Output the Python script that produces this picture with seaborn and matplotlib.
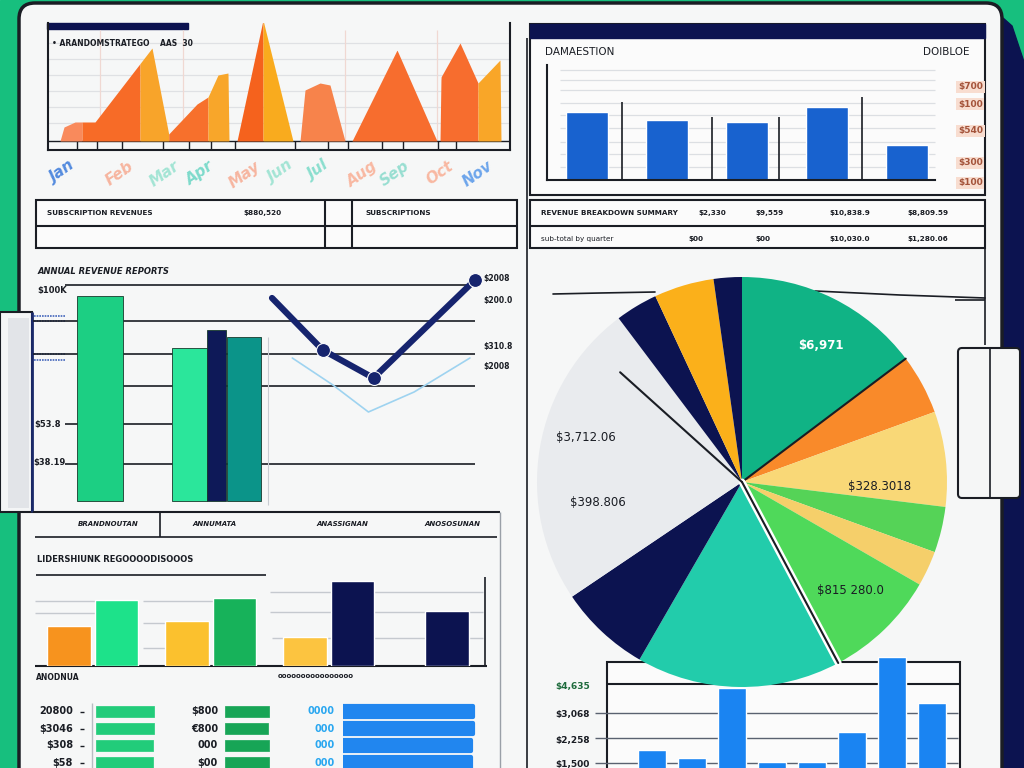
import numpy as np
import pandas as pd
import matplotlib
matplotlib.use("Agg")
import matplotlib.pyplot as plt
from matplotlib.patches import Rectangle, FancyBboxPatch, Polygon
import seaborn as sns

sns.set_theme(style="white")
plt.rcParams["font.family"] = ["DejaVu Sans"]

# ---------------- data ----------------
# top-left area chart: knots (day index) and heights
wave_x = [12, 16, 27, 47, 104, 120.7, 149, 160, 170, 180, 181, 189, 215, 245,
          252, 257, 272, 282, 297, 304, 349, 389, 392, 393, 412, 430, 452, 453]
wave_y = [0, 14, 19, 19, 93, 7, 37, 44, 66, 68, 0, 0, 121, 0,
          0, 51, 58, 56, 0, 0, 91, 0, 0, 64, 98, 58, 81, 0]
wave_bands = [(12, 34), (34, 92), (92, 120.7), (120.7, 160), (160, 181), (189, 215),
              (215, 245), (252, 297), (304, 389), (392, 430), (430, 453)]
wave_months = ["Jan", "Feb", "Mar", "Apr", "May", "Jun", "Jul", "Aug", "Sep", "Oct", "Nov"]

# top-right distribution bars
dist_cats = ["North", "South", "East", "West", "Central"]
dist_vals = [680, 600, 580, 730, 350]
dist_side = ["$700", "$100", "$540", "$300", "$100"]

# tables
right_row1 = ["REVENUE BREAKDOWN SUMMARY", "$2,330", "$9,559", "$10,838.9", "$8,809.59"]
right_row2 = ["sub-total by quarter", "$00", "$00", "$10,030.0", "$1,280.06"]
left_row1 = ["SUBSCRIPTION REVENUES", "$880,520", "SUBSCRIPTIONS"]

# annual revenue bars + trend
rev_cats = ["2019", "2020 A", "2020 B", "2020 C"]
rev_vals = [102.5, 76.5, 85.5, 82]
trend_t = [0, 1, 2, 4]
trend_v = [66, 40, 26, 75]
target_t = [0.4, 1.2, 1.9, 2.8, 3.9]
target_v = [36, 22.5, 9, 19, 36]

# pie shares (clockwise from 12 o'clock)
share_vals = [53, 17, 27, 13, 10, 32, 58, 26, 87, 12, 17, 8]
share_labels = ["$6,971", "$3,712.06", "$398.806", "$328.3018", "$815 280.0"]

# segment bars
seg_groups = ["A", "B", "C", "D"]
seg_plan = [40, 45, 29]
seg_actual = [66, 68, 85, 55]
seg_labels = ["BRANDNOUTAN", "ANNUMATA", "ANASSIGNAN", "ANOSOSUNAN"]

# kpi horizontal bars
kpi_a = [58, 58, 57, 57]
kpi_b = [44, 43, 44, 44]
kpi_c = [130, 130, 128, 128]
kpi_a_lbl = ["20800", "$3046", "$308", "$58"]
kpi_b_lbl = ["$800", "€800", "000", "$00"]
kpi_c_lbl = ["0000", "000", "000", "000"]

# monthly bars (bottom right)
month_cats = ["Jan", "Feb", "Mar", "Apr", "May", "Jun", "Jul", "Aug"]
month_vals = [1000, 680, 3480, 520, 520, 1720, 4720, 2880]
month_ticks = ["$4,635", "$3,068", "$2,258", "$1,500"]

# ---------------- colours ----------------
GREEN_BG = "#17bf7e"
NAVY = "#0c1350"
PANEL = "#f6f7f7"
INK = "#1a1d24"

W, H = 1024, 768


def box(x0, y0, x1, y1):
    return [x0 / W, 1 - y1 / H, (x1 - x0) / W, (y1 - y0) / H]


def clean(ax):
    ax.set_facecolor("none")
    for s in ax.spines.values():
        s.set_visible(False)
    ax.set_xticks([])
    ax.set_yticks([])
    ax.set_xlabel("")
    ax.set_ylabel("")


fig = plt.figure(figsize=(10.24, 7.68), dpi=100)
bg = fig.add_axes([0, 0, 1, 1])
bg.set_xlim(0, W)
bg.set_ylim(H, 0)
bg.axis("off")


def hl(y, x0, x1, c=INK, lw=1.2, **kw):
    bg.plot([x0, x1], [y, y], color=c, lw=lw, solid_capstyle="butt", **kw)


def vl(x, y0, y1, c=INK, lw=1.2, **kw):
    bg.plot([x, x], [y0, y1], color=c, lw=lw, solid_capstyle="butt", **kw)


def txt(x, y, s, size=6, **kw):
    kw.setdefault("fontweight", "bold")
    kw.setdefault("color", INK)
    bg.text(x, y, s, fontsize=size, va="center", **kw)


# background, panel, side tabs
bg.add_patch(Rectangle((0, 0), W, H, color=GREEN_BG))
bg.add_patch(Polygon([(1003, 768), (1003, 18), (1012, 26), (1024, 62), (1024, 768)], color=NAVY))
bg.add_patch(FancyBboxPatch((19, 3), 983, 800, boxstyle="round,pad=0,rounding_size=16",
                            fc=PANEL, ec=INK, lw=2.5))
bg.add_patch(Rectangle((0, 312), 32, 200, fc="#f4f5f6", ec=INK, lw=1.5))
bg.add_patch(Rectangle((8, 318), 21, 190, fc="#e2e4e8", ec="none"))
vl(32, 312, 512, c="#1b2a6b", lw=2)
for yy in (316, 321, 354, 360):
    hl(yy, 34, 65, c="#4466bb", lw=1.2, ls=(0, (1, 0.6)))
bg.add_patch(FancyBboxPatch((958, 348), 62, 150, boxstyle="round,pad=0,rounding_size=4",
                            fc="#f5f6f6", ec=INK, lw=1.5))
vl(990, 349, 497, lw=1.2)

# ---- top-left frame ----
bg.add_patch(Rectangle((47, 23), 141, 6, color=NAVY))
txt(52, 44, "• ARANDOMSTRATEGO    AAS  30", size=5.5)
for gy in (43, 59, 75, 91, 107, 123):
    hl(gy, 48, 510, c="#dfe1e4", lw=0.9)
for gx in (100, 183, 345, 437):
    vl(gx, 30, 141, c="#f0d8d2", lw=0.9)
hl(141, 48, 510, lw=1)
for tx in (77, 97, 122, 163, 189, 211, 235, 295, 328, 348, 382, 403, 438, 456):
    vl(tx, 141, 150, lw=1)

# ---- top-right frame ----
bg.add_patch(Rectangle((530, 24), 455, 171, fc="#fbfbfb", ec=INK, lw=1.5))
bg.add_patch(Rectangle((530, 24), 455, 14, color=NAVY))
txt(545, 52, "DAMAESTION", size=7.5, fontweight="normal")
txt(970, 52, "DOIBLOE", size=7.5, ha="right", fontweight="normal")
for gy in (70, 80, 90, 103, 115, 128, 142, 154, 167):
    hl(gy, 560, 935, c="#dcdfe3", lw=0.9)
for (gx, gy) in ((622, 102), (712, 117), (779, 117), (862, 97)):
    vl(gx, gy, 180, lw=1.2)
for lab, yy in zip(dist_side, (87, 104, 131, 163, 183)):
    txt(958, yy, lab, size=6.5, color="#a4533a",
        bbox=dict(fc="#f8ddd0", ec="none", pad=1.2))

# right table
bg.add_patch(Rectangle((530, 200), 455, 48, fc="#fbfbfb", ec=INK, lw=1.5))
hl(226, 530, 985, lw=1.5)
for lab, xx in zip(right_row1, (541, 698, 755, 829, 907)):
    txt(xx, 213, lab, size=5.2)
for lab, xx in zip(right_row2, (541, 688, 755, 829, 907)):
    txt(xx, 239, lab, size=5.2, fontweight="normal" if xx == 541 else "bold")

# right panel borders
vl(527, 38, 768, lw=1.2)
vl(985, 248, 345, lw=1.2)
hl(300, 955, 985, lw=1.2)
bg.plot([553, 600, 655], [294, 293, 292], color=INK, lw=1.2)
bg.plot([815, 900, 985], [291, 295, 298], color=INK, lw=1.2)

# left table
bg.add_patch(Rectangle((36, 200), 481, 48, fc="#fbfbfb", ec=INK, lw=1.5))
hl(226, 36, 517, lw=1.5)
vl(325, 200, 248, lw=1.5)
vl(352, 200, 248, lw=1.5)
for lab, xx in zip(left_row1, (47, 243, 365)):
    txt(xx, 213, lab, size=5.2)

# ---- middle-left frame ----
txt(38, 271, "ANNUAL REVENUE REPORTS", size=6, fontstyle="italic")
hl(285, 65, 473)
for gy in (321, 354):
    hl(gy, 33, 475)
hl(386, 123, 475)
hl(424, 65, 172)
hl(464, 65, 475)
vl(268, 337, 505, c="#c8ccd2", lw=0.8)
hl(512, 33, 500, lw=1.5)
txt(37, 291, "$100K", size=6)
txt(34, 424, "$53.8", size=6)
txt(33, 463, "$38.19", size=6)
for lab, yy in zip(["$2008", "$200.0", "$310.8", "$2008"], (279, 300, 347, 367)):
    txt(483, yy, lab, size=5.5)

# label row
hl(537, 35, 497, lw=1.2)
vl(160, 512, 537, lw=1.2)
for lab, xx in zip(seg_labels, (78, 192, 316, 424)):
    txt(xx, 524, lab, size=5, fontstyle="italic")
vl(500, 512, 768, c="#9aa0a8", lw=1)

# ---- bottom-left frame ----
txt(37, 560, "LIDERSHIUNK REGOOOODISOOOS", size=6)
hl(575, 36, 266, lw=1.2)
for gy, x0, x1 in ((601, 35, 95), (613, 35, 95), (601, 143, 223), (623, 143, 182),
                   (648, 143, 182), (592, 270, 483), (612, 270, 483), (638, 272, 483)):
    hl(gy, x0, x1, c="#c5c9cf", lw=1)
vl(485, 577, 666, lw=1.2)
hl(666, 35, 487, lw=1.5)
txt(36, 678, "ANODNUA", size=5.5)
txt(278, 676, "oooooooooooooooo", size=5)

# bottom-right frame
bg.add_patch(Rectangle((607, 662), 353, 120, fc="#fbfbfb", ec=INK, lw=1.5))
hl(684, 607, 960, lw=1.5)
for gy in (713, 738, 763):
    hl(gy, 595, 958, c="#5a6270", lw=1)
for lab, yy, c in zip(month_ticks, (687, 715, 740, 765), ("#1d6b3c", INK, INK, INK)):
    txt(590, yy, lab, size=6.5, ha="right", color=c)

# ---------------- charts ----------------
# top-left area chart
ax = fig.add_axes(box(48, 23, 510, 150))
band_colors = ["#f98a5c", "#f76b27", "#f8a42a", "#f7702c", "#f8a62a", "#f5621d",
               "#f9ab1e", "#f7834b", "#f76d2e", "#f76d2e", "#f9a628"]
for (a, b), c in zip(wave_bands, band_colors):
    xs = np.linspace(a, b, 200)
    ax.fill_between(xs, 0, np.interp(xs, wave_x, wave_y), color=c, lw=0)
ax.set_xlim(0, 462)
ax.set_ylim(-9, 118)
ax.set_facecolor("none")
for s in ("left", "right", "bottom"):
    ax.spines[s].set_color(INK)
    ax.spines[s].set_linewidth(1.5)
ax.spines["top"].set_visible(False)
ax.set_yticks([])
ax.set_xticks([14, 72, 117, 152, 197, 232, 270, 314, 347, 392, 430], wave_months)
ax.tick_params(axis="x", length=0, pad=6)
tick_cols = ["#2a6fd8", "#f7a58a", "#8ee0cc", "#5fd3c0", "#f7a58a", "#8ee0cc",
             "#6fd8c4", "#f9a88c", "#80d8c8", "#f9a88c", "#4a90e8"]
for lab, c in zip(ax.get_xticklabels(), tick_cols):
    lab.set_color(c)
    lab.set_fontsize(11)
    lab.set_fontweight("bold")
    lab.set_fontstyle("italic")
    lab.set_rotation(35)
    lab.set_alpha(0.8)

# top-right bars
ax = fig.add_axes(box(547, 65, 935, 180))
sns.barplot(x=dist_cats, y=dist_vals, color="#1862cf", saturation=1, width=0.53, ax=ax)
ax.set_xlim(-0.5, 4.35)
ax.set_ylim(0, 1150)
clean(ax)
ax.spines["left"].set_visible(True)
ax.spines["bottom"].set_visible(True)
ax.spines["left"].set_color(INK)
ax.spines["bottom"].set_color(INK)
ax.spines["left"].set_linewidth(1.5)
ax.spines["bottom"].set_linewidth(1.5)

# annual revenue bars
ax = fig.add_axes(box(33, 265, 265, 512))
rev_pos = [0, 2, 2.6, 3.2]
rev_w = [1.02, 0.78, 0.42, 0.75]
rev_cols = ["#1ccf83", "#2be69b", "#0e1958", "#0b9489"]
ax.bar(rev_pos, rev_vals, width=rev_w, color=rev_cols, ec="#173a2c", lw=0.6)
ax.set_xlim(-1.49, 3.67)
ax.set_ylim(-5.5, 118)
clean(ax)

# trend lines
ax = fig.add_axes(box(265, 265, 485, 430))
sns.lineplot(x=target_t, y=target_v, color="#9ed3f0", lw=1.2, ax=ax)
sns.lineplot(x=trend_t, y=trend_v, color="#16246e", lw=4.5, marker="o", markersize=10,
             markevery=[1, 2, 3], ax=ax)
ax.set_xlim(-0.138, 4.197)
ax.set_ylim(0, 82.5)
clean(ax)

# pie
ax = fig.add_axes(box(537, 277, 947, 687))
share_cols = ["#10b385", "#f98a2a", "#f9d877", "#55d357", "#f5cf6a", "#4fd95a",
              "#22ccab", NAVY, "#e9ebee", NAVY, "#fbb01a", NAVY]
ax.pie(share_vals, colors=share_cols, startangle=90, counterclock=False,
       wedgeprops=dict(lw=0))
bounds = 90 - np.cumsum(share_vals)
for th, c, lw, r in ((bounds[0], INK, 1.5, 1.0), (bounds[5], "white", 5, 1.0),
                     (bounds[5], INK, 1.5, 1.0), (138, INK, 1.5, 0.8)):
    t = np.radians(th)
    ax.plot([0, r * np.cos(t)], [0, r * np.sin(t)], color=c, lw=lw)
for lab, ang, r, c in zip(share_labels, (60, 164, 188, -2, -45), (0.77, 0.79, 0.71, 0.67, 0.75),
                          ("white", INK, INK, INK, INK)):
    t = np.radians(ang)
    ax.text(r * np.cos(t), r * np.sin(t), lab, ha="center", va="center",
            fontsize=8.5, color=c, fontweight="bold" if c == "white" else "normal")
ax.set_xlim(-1, 1)
ax.set_ylim(-1, 1)
ax.axis("off")

# segment bars
ax = fig.add_axes(box(35, 577, 487, 666))
plan_cols = ["#f7931e", "#fbc12e", "#fcc440"]
act_cols = ["#1de28a", "#17b25a", NAVY, NAVY]
g = np.arange(len(seg_groups))
ax.bar(g[:3] - 0.2, seg_plan, width=0.37, color=plan_cols)
ax.bar(np.r_[g[:3] + 0.2, g[3]], seg_actual, width=0.37, color=act_cols)
ax.set_xlim(-0.49, 3.34)
ax.set_ylim(0, 89)
clean(ax)

# kpi horizontal bars
for vals, labs, x0, x1, col, lcol, lx in (
        (kpi_a, kpi_a_lbl, 96, 166, "#22cc7a", INK, 73),
        (kpi_b, kpi_b_lbl, 225, 295, "#17a556", INK, 218),
        (kpi_c, kpi_c_lbl, 343, 480, "#2186ef", "#2aa7f0", 335)):
    ax = fig.add_axes(box(x0, 703, x1, 771))
    rows = np.arange(len(vals))
    bars = ax.barh(rows, vals, height=0.7, color=col, ec=col,
                   lw=3 if x0 == 343 else 0.5, joinstyle="round")
    ax.set_xlim(0, x1 - x0)
    ax.set_ylim(3.5, -0.5)
    clean(ax)
    for lab, yy in zip(labs, 711.5 + 17 * rows):
        txt(lx, yy, lab, size=7, ha="right", color=lcol)
for yy in 711.5 + 17 * np.arange(4):
    hl(yy, 80, 84, lw=1)
vl(92, 703, 768, c="#b8bcc2", lw=1)

# monthly bars
ax = fig.add_axes(box(607, 662, 960, 768))
sns.barplot(x=month_cats, y=month_vals, color="#1a84f2", saturation=1, width=0.7, ax=ax)
for p in ax.patches:
    p.set_clip_on(False)
ax.set_xlim(-1.125, 7.7)
ax.set_ylim(280, 4520)
clean(ax)

fig.savefig("out.png", dpi=100)
